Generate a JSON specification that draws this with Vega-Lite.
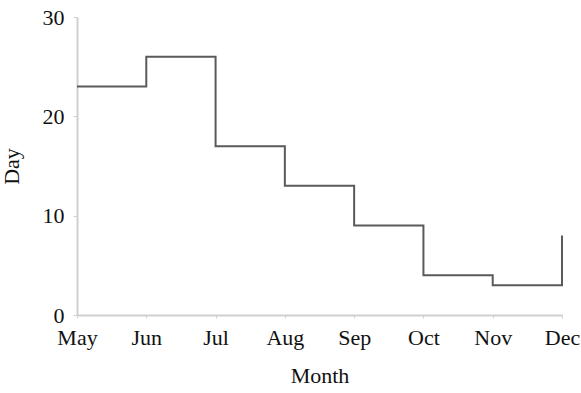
{
  "$schema": "https://vega.github.io/schema/vega-lite/v6.json",
  "autosize": "none",
  "width": 485,
  "height": 298,
  "padding": {"left": 77, "top": 17, "right": 19, "bottom": 78},
  "background": "white",
  "config": {"view": {"stroke": null}, "font": "Liberation Serif"},
  "data": {"values": [
    {"Month": "May", "Day": 23},
    {"Month": "Jun", "Day": 26},
    {"Month": "Jul", "Day": 17},
    {"Month": "Aug", "Day": 13},
    {"Month": "Sep", "Day": 9},
    {"Month": "Oct", "Day": 4},
    {"Month": "Nov", "Day": 3},
    {"Month": "Dec", "Day": 8}
  ]},
  "mark": {"type": "line", "interpolate": "step-after", "color": "#5a5a5a", "strokeWidth": 2},
  "encoding": {
    "x": {"field": "Month", "type": "ordinal", "sort": null,
      "scale": {"type": "point", "padding": 0},
      "axis": {"labelAngle": 0, "labelFont": "Liberation Serif", "labelFontSize": 22, "labelColor": "#111", "domainColor": "#d0d0d0", "domainWidth": 2, "tickColor": "#d0d0d0", "tickSize": 3, "labelPadding": 9, "title": "Month", "titleFont": "Liberation Serif", "titleFontSize": 22, "titleFontWeight": "normal", "titleColor": "#111", "titlePadding": 17}},
    "y": {"field": "Day", "type": "quantitative",
      "scale": {"domain": [0, 30]},
      "axis": {"values": [0, 10, 20, 30], "grid": false, "labelFont": "Liberation Serif", "labelFontSize": 22, "labelColor": "#111", "domainColor": "#d0d0d0", "domainWidth": 2, "tickColor": "#d0d0d0", "tickSize": 4, "labelPadding": 9, "title": "Day", "titleFont": "Liberation Serif", "titleFontSize": 22, "titleFontWeight": "normal", "titleColor": "#111", "titlePadding": 19}}
  }
}
